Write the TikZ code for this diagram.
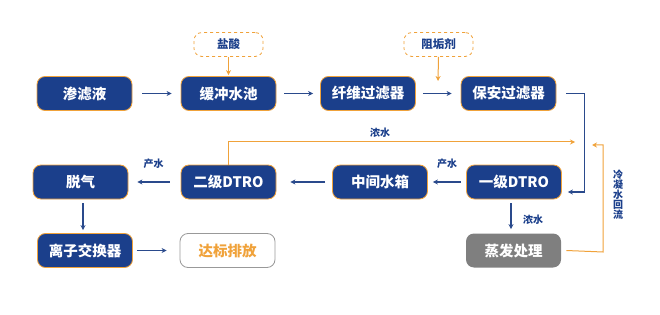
\documentclass[tikz,border=0pt]{standalone}
\usepackage{fontspec}
\setmainfont{Noto Sans CJK SC}
\newfontfamily\cjk{Noto Sans CJK SC}
\usetikzlibrary{arrows.meta}
\definecolor{dblue}{HTML}{1B3F8B}
\definecolor{lblue}{HTML}{2A4A8C}
\definecolor{orng}{HTML}{F0A23A}
\definecolor{gbox}{HTML}{7F7F7F}
\tikzset{
  box/.style={draw=orng, line width=0.8pt, fill=dblue, text=white, rounded corners=8pt,
    minimum width=95pt, minimum height=34pt, inner sep=0pt, font=\cjk\bfseries\fontsize{14.5}{16}\selectfont},
  graybox/.style={box, draw=none, fill=gbox},
  whitebox/.style={box, fill=white, draw=gray!80, text=orng},
  dbox/.style={draw=orng, dashed, line width=0.8pt, rounded corners=8pt, fill=white, text=dblue,
    minimum width=69pt, minimum height=24pt, inner sep=0pt, font=\cjk\bfseries\fontsize{11.5}{13}\selectfont},
  barrow/.style={draw=lblue, line width=1.6pt, -{Stealth[length=5pt,width=5pt]}},
  oarrow/.style={draw=orng, line width=1pt, -{Stealth[length=5pt,width=5pt]}},
  lbl/.style={text=dblue, font=\cjk\bfseries\fontsize{10}{11}\selectfont, inner sep=0pt},
}
\begin{document}
\begin{tikzpicture}[x=1pt,y=-1pt]
\useasboundingbox (0,0) rectangle (660,315);
% row 1
\node[box] (a) at (84.5,93.5) {渗滤液};
\node[box] (b) at (228.5,93.5) {缓冲水池};
\node[box] (c) at (368,93.5) {纤维过滤器};
\node[box] (d) at (508.5,93.5) {保安过滤器};
\node[dbox] (s1) at (228.5,44.5) {盐酸};
\node[dbox] (s2) at (438.5,44.5) {阻垢剂};
% row 2
\node[box] (f) at (80.5,182) {脱气};
\node[box] (e) at (228.5,182) {二级DTRO};
\node[box] (m) at (380,182) {中间水箱};
\node[box] (g) at (514,182) {一级DTRO};
% row 3
\node[box] (h) at (85,250.5) {离子交换器};
\node[whitebox] (k) at (227.5,250.5) {达标排放};
\node[graybox] (v) at (513.5,250.5) {蒸发处理};
% coordinates
\coordinate (t2) at (438,81);
\coordinate (cn) at (575,142);
\coordinate (cr) at (592,145);
% row 1 arrows
\draw[barrow] ([xshift=10pt]a.east) -- ([xshift=-9pt]b.west);
\draw[barrow] ([xshift=8pt]b.east) -- ([xshift=-7pt]c.west);
\draw[barrow] ([xshift=7pt]c.east) -- ([xshift=-9pt]d.west);
\draw[oarrow] (s1.south) -- ([yshift=1pt]b.north);
\draw[oarrow] (s2.south) -- (t2);
% down to 一级DTRO
\draw[barrow] ([xshift=10pt]d.east) -- ++(18pt,0) |- ([xshift=6pt,yshift=-10pt]g.east);
% row 2 arrows
\draw[barrow] ([xshift=-5pt]g.west) -- ([xshift=5pt]m.east) node[midway,lbl,yshift=18pt] {产水};
\draw[barrow] ([xshift=-7pt]m.west) -- ([xshift=14pt]e.east);
\draw[barrow] ([xshift=-11pt]e.west) -- ([xshift=9pt]f.east) node[midway,lbl,yshift=18pt] {产水};
% concentrate lines
\draw[oarrow] (e.north) -- (e.north |- cn) -- (cn);
\node[lbl] at (380,133) {浓水};
\draw[barrow] ([yshift=-4pt]g.south -| 511,0) -- ([yshift=4pt]v.north -| 511,0);
\node[lbl] at (533,220) {浓水};
\draw[oarrow] ([xshift=5pt]v.east) -- (603,252) |- (cr);
\node[lbl, align=center, text width=12pt] at (618,195) {冷\\[-1pt]凝\\[-1pt]水\\[-1pt]回\\[-1pt]流};
% row 3 arrows
\draw[barrow] ([yshift=-4pt]f.south -| 83,0) -- ([yshift=3pt]h.north -| 83,0);
\draw[barrow] ([xshift=4pt]h.east) -- ([xshift=-13pt]k.west);
\end{tikzpicture}
\end{document}
